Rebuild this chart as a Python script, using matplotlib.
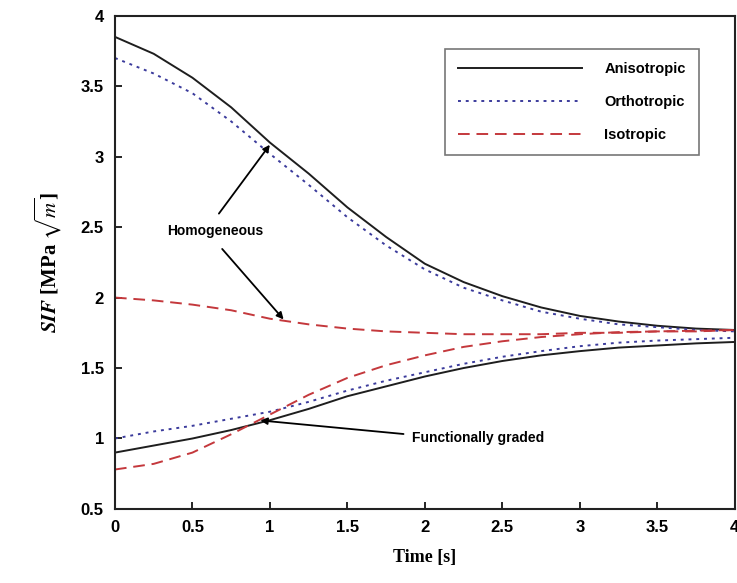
import numpy as np
import matplotlib.pyplot as plt
from matplotlib.ticker import FuncFormatter

plt.rcParams["mathtext.fontset"] = "stix"

# time samples (s)
t = [0, 0.25, 0.5, 0.75, 1.0, 1.25, 1.5, 1.75, 2.0, 2.25, 2.5, 2.75, 3.0, 3.25, 3.5, 3.75, 4.0]

# homogeneous material
aniso_hom = [3.85, 3.73, 3.56, 3.35, 3.10, 2.88, 2.64, 2.43, 2.24, 2.11, 2.01, 1.93, 1.87, 1.83, 1.80, 1.78, 1.77]
ortho_hom = [3.70, 3.59, 3.45, 3.25, 3.02, 2.80, 2.57, 2.37, 2.20, 2.07, 1.98, 1.90, 1.85, 1.81, 1.79, 1.77, 1.76]
iso_hom = [2.00, 1.98, 1.95, 1.91, 1.85, 1.81, 1.78, 1.76, 1.75, 1.74, 1.74, 1.74, 1.75, 1.75, 1.76, 1.76, 1.77]

# functionally graded material
aniso_fg = [0.90, 0.95, 1.00, 1.06, 1.13, 1.21, 1.30, 1.37, 1.44, 1.50, 1.55, 1.59, 1.62, 1.645, 1.66, 1.675, 1.685]
ortho_fg = [1.00, 1.05, 1.09, 1.14, 1.19, 1.26, 1.34, 1.41, 1.47, 1.53, 1.58, 1.62, 1.655, 1.68, 1.695, 1.705, 1.715]
iso_fg = [0.78, 0.82, 0.90, 1.03, 1.17, 1.31, 1.43, 1.52, 1.59, 1.65, 1.69, 1.72, 1.74, 1.755, 1.76, 1.765, 1.77]

black = "#1e1e1e"
blue = "#3b3b9c"
red = "#c4383c"
dot = (0, (1.5, 2.5))
dash = (0, (6, 3.5))

fig = plt.figure(figsize=(7.37, 5.83), dpi=100)
ax = fig.add_axes([0.156, 0.127, 0.841, 0.846])

ax.plot(t, aniso_hom, color=black, lw=1.4, label="Anisotropic")
ax.plot(t, ortho_hom, color=blue, lw=1.4, ls=dot, label="Orthotropic")
ax.plot(t, iso_hom, color=red, lw=1.4, ls=dash, label="Isotropic")
ax.plot(t, aniso_fg, color=black, lw=1.4)
ax.plot(t, ortho_fg, color=blue, lw=1.4, ls=dot)
ax.plot(t, iso_fg, color=red, lw=1.4, ls=dash)

ax.set_xlim(0, 4)
ax.set_ylim(0.5, 4)
ax.set_xticks(np.arange(0, 4.01, 0.5))
ax.set_yticks(np.arange(0.5, 4.01, 0.5))
fmt = FuncFormatter(lambda v, p: "%g" % v)
ax.xaxis.set_major_formatter(fmt)
ax.yaxis.set_major_formatter(fmt)
ax.tick_params(direction="in", length=5, width=1.2, labelsize=12, pad=8)
for lab in ax.get_xticklabels() + ax.get_yticklabels():
    lab.set_fontweight("bold")
    lab.set_family("Liberation Sans")
for s in ax.spines.values():
    s.set_linewidth(1.5)
    s.set_color("#222222")

ax.set_xlabel("Time [s]", family="Liberation Serif", fontweight="bold", fontsize=13, labelpad=10)
ax.set_ylabel(r"$\mathbfit{SIF}$ [MPa $\sqrt{m}$]", family="Liberation Serif",
              fontweight="bold", fontsize=15, labelpad=12)

leg = ax.legend(loc="upper left", bbox_to_anchor=(0.521, 0.947), frameon=True, fancybox=False,
                handlelength=8.5, handletextpad=1.5, labelspacing=1.3, borderpad=0.9,
                prop={"family": "Liberation Sans", "weight": "bold", "size": 10.5})
leg.get_frame().set_edgecolor("#555555")
leg.get_frame().set_linewidth(1.2)

# annotations
arrow = dict(arrowstyle="-|>", color="black", lw=1.3, mutation_scale=10)
ax.text(0.645, 2.47, "Homogeneous", ha="center", va="center", family="Liberation Sans",
        fontweight="bold", fontsize=10)
ax.annotate("", xy=(1.01, 3.10), xytext=(0.66, 2.58), arrowprops=arrow)
ax.annotate("", xy=(1.10, 1.83), xytext=(0.68, 2.36), arrowprops=arrow)
ax.text(1.92, 1.0, "Functionally graded", ha="left", va="center", family="Liberation Sans",
        fontweight="bold", fontsize=10)
ax.annotate("", xy=(0.92, 1.13), xytext=(1.88, 1.03), arrowprops=arrow)

fig.savefig("out.png", dpi=100)
